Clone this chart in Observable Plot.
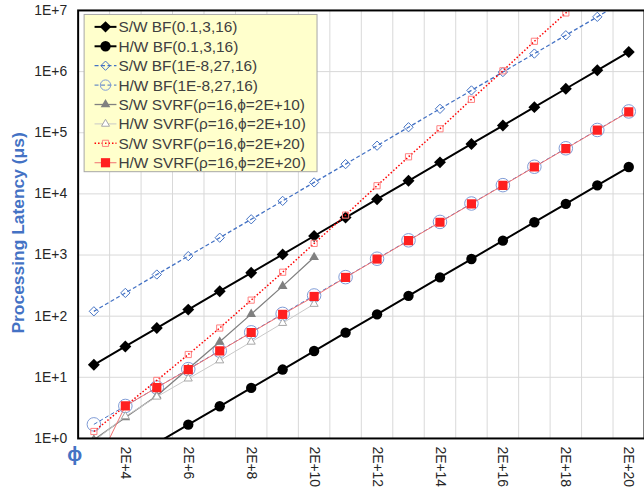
<!DOCTYPE html>
<html><head><meta charset="utf-8">
<script src="https://cdn.jsdelivr.net/npm/d3@7"></script>
<script src="https://cdn.jsdelivr.net/npm/@observablehq/plot@0.6"></script>
<style>
html,body{margin:0;padding:0;overflow:hidden;background:#fff;}
#chart{position:relative;width:644px;height:491px;overflow:hidden;}
</style></head><body><div id="chart"></div>
<script>
// ---- data ----
const categories = ["2E+3","2E+4","2E+5","2E+6","2E+7","2E+8","2E+9","2E+10","2E+11","2E+12","2E+13","2E+14","2E+15","2E+16","2E+17","2E+18","2E+19","2E+20"];
const xTickLabels = ["2E+4","2E+6","2E+8","2E+10","2E+12","2E+14","2E+16","2E+18","2E+20"];
const yTicks = [1,10,100,1000,1e4,1e5,1e6,1e7];
const yTickLabels = ["1E+0","1E+1","1E+2","1E+3","1E+4","1E+5","1E+6","1E+7"];
const seriesNames = ["S/W BF(0.1,3,16)","H/W BF(0.1,3,16)","S/W BF(1E-8,27,16)","H/W BF(1E-8,27,16)","S/W SVRF(ρ=16,ϕ=2E+10)","H/W SVRF(ρ=16,ϕ=2E+10)","S/W SVRF(ρ=16,ϕ=2E+20)","H/W SVRF(ρ=16,ϕ=2E+20)"];
const swBF01 = [16,32,64,128,256,512,1024,2048,4096,8192,16384,32768,65536,131072,262144,524288,1048576,2097152];
const hwBF01 = [0.21,0.42,0.84,1.68,3.36,6.7,13.4,26.9,53.7,107,215,430,860,1720,3440,6880,13800,27500];
const swBF1e8 = [120,240,480,960,1920,3840,7680,15400,30700,61400,123000,246000,492000,983000,1970000,3930000,7860000,15700000];
const hwBF1e8 = [1.7,3.4,6.8,13.6,27.2,54.4,109,218,435,870,1740,3480,6960,13900,27800,55700,111000,223000];
const swSVRF10 = [0.95,2.2,5.0,13.8,38,108,310,918,null,null,null,null,null,null,null,null,null,null];
const hwSVRF10 = [0.9,2.3,4.8,9.5,18.8,38,77,158,null,null,null,null,null,null,null,null,null,null];
const swSVRF20 = [1.3,3.4,8.9,23.6,64,183,523,1550,4500,13600,40400,116000,352000,1030000,3130000,9100000,27000000,80000000];
const hwSVRF20 = [0.3,3.4,6.8,13.4,27,54,107,210,430,860,1720,3440,6880,13750,27500,55000,110000,220000];
const seriesValues = [swBF01,hwBF01,swBF1e8,hwBF1e8,swSVRF10,hwSVRF10,swSVRF20,hwSVRF20];

// ---- styles ----
const styles = [
  {stroke:"#000", sw:2, dash:null, symbol:"diamond2", r:5.4, fill:"#000", mstroke:"none", msw:0},
  {stroke:"#000", sw:2, dash:null, symbol:"circle", r:5.2, fill:"#000", mstroke:"none", msw:0},
  {stroke:"#4472C4", sw:1.3, dash:"4,2.5", symbol:"diamond2", r:4.2, fill:"none", mstroke:"#4472C4", msw:1},
  {stroke:"#4472C4", sw:1, dash:"4,2.5", symbol:"circle", r:6.8, fill:"none", mstroke:"#7F9BD6", msw:1},
  {stroke:"#808080", sw:1.3, dash:null, symbol:"triangle", r:3.6, fill:"#808080", mstroke:"none", msw:0},
  {stroke:"#C8C8C8", sw:1, dash:null, symbol:"triangle", r:3, fill:"#fff", mstroke:"#A6A6A6", msw:1},
  {stroke:"#FF0000", sw:1.5, dash:"1.5,2", symbol:"square", r:3.5, fill:"none", mstroke:"#FF8080", msw:1},
  {stroke:"#F07070", sw:1, dash:null, symbol:"square", r:5.2, fill:"#FF2020", mstroke:"none", msw:0}
];

const rows = [];
seriesValues.forEach((vals, s) => vals.forEach((v, i) => { if (v != null) rows.push({s, i, v}); }));
const boundaries = categories.slice(1).map((_, i) => i + 0.5);
const xTickIdx = xTickLabels.map(l => categories.indexOf(l));

const marks = [
  Plot.ruleY(yTicks, {y: d => d, stroke:"#d9d9d9", strokeWidth:1}),
  Plot.ruleX(boundaries, {x: d => d, stroke:"#d9d9d9", strokeWidth:1})
];
styles.forEach((st, s) => {
  const d = rows.filter(r => r.s === s);
  marks.push(Plot.line(d, {x:"i", y:"v", stroke:st.stroke, strokeWidth:st.sw, strokeDasharray:st.dash || undefined, strokeLinecap:"butt", clip:true}));
  marks.push(Plot.dot(d, {x:"i", y:"v", symbol:st.symbol, r:st.r, fill:st.fill, stroke:st.mstroke, strokeWidth:st.msw, clip:true}));
});
marks.push(Plot.frame({stroke:"#000", strokeWidth:2}));
marks.push(Plot.axisY({ticks:yTicks, tickFormat:(d) => yTickLabels[yTicks.indexOf(d)], tickSize:0, tickPadding:11, label:null, fontSize:14}));
marks.push(Plot.axisX({ticks:xTickIdx, tickFormat:(i) => categories[i], tickRotate:90, tickSize:0, tickPadding:8, label:null, fontSize:14}));

const chart = Plot.plot({
  width: 647, height: 491,
  marginLeft: 78, marginRight: 0, marginTop: 10, marginBottom: 51,
  style: {fontFamily:"'Liberation Sans', Arial, sans-serif", fontSize:"14px", color:"#262626", background:"#fff", overflow:"visible"},
  x: {type:"linear", domain:[-0.5, categories.length - 0.5]},
  y: {type:"log", domain:[1, 1e7]},
  marks
});
document.getElementById("chart").appendChild(chart);

// ---- titles & legend ----
const svg = d3.select(chart);
svg.append("text").attr("transform","translate(18,234) rotate(-90)").attr("text-anchor","middle")
  .attr("dominant-baseline","central").attr("font-size",17.5).attr("font-weight","bold").attr("fill","#4472C4")
  .text("Processing Latency (μs)");
svg.append("text").attr("x",75).attr("y",456).attr("text-anchor","middle").attr("dominant-baseline","central")
  .attr("font-size",20).attr("font-weight","bold").attr("fill","#4472C4").text("ϕ");

const lg = svg.append("g");
lg.append("rect").attr("x",84.5).attr("y",14.5).attr("width",234).attr("height",158)
  .attr("fill","#FFFFCC").attr("stroke","#A6A6A6").attr("stroke-width",1);
const symMap = {diamond2:d3.symbolDiamond2, circle:d3.symbolCircle, triangle:d3.symbolTriangle, square:d3.symbolSquare};
seriesNames.forEach((name, s) => {
  const st = styles[s];
  const cy = 27 + s * 19.5;
  lg.append("line").attr("x1",95).attr("x2",117).attr("y1",cy).attr("y2",cy)
    .attr("stroke",st.stroke).attr("stroke-width",st.sw).attr("stroke-dasharray",st.dash);
  lg.append("path").attr("transform",`translate(106,${cy})`)
    .attr("d", d3.symbol(symMap[st.symbol], Math.PI * Math.min(st.r, 5.2) * Math.min(st.r, 5.2))())
    .attr("fill",st.fill).attr("stroke",st.mstroke).attr("stroke-width",st.msw);
  lg.append("text").attr("x",119).attr("y",cy).attr("dominant-baseline","central").attr("text-anchor","start")
    .attr("font-size",15.5).attr("fill","#404040").text(name);
});
</script></body></html>
